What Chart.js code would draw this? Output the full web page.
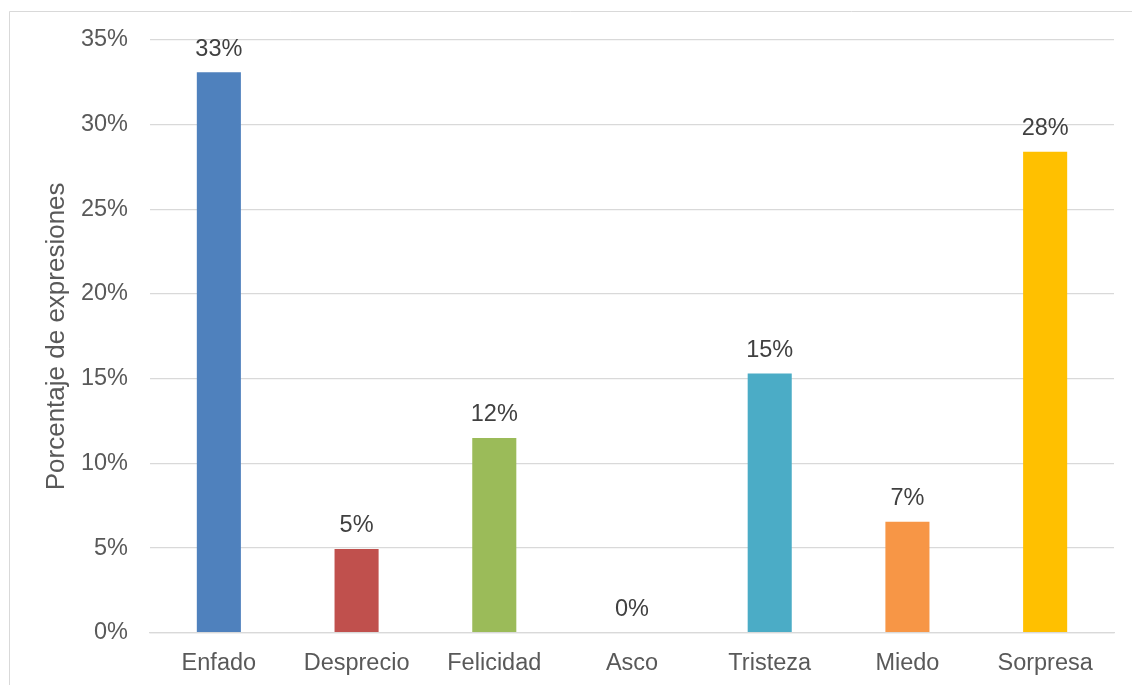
<!DOCTYPE html>
<html>
<head>
<meta charset="utf-8">
<script src="https://cdn.jsdelivr.net/npm/chart.js@4.4.1/dist/chart.umd.min.js"></script>
<style>
  html, body { margin: 0; padding: 0; background: #ffffff; }
  #wrap { position: relative; width: 1132px; height: 685px; }
</style>
</head>
<body>
<div id="wrap"><canvas id="c" width="1132" height="685"></canvas></div>
<script>
const categories = ["Enfado", "Desprecio", "Felicidad", "Asco", "Tristeza", "Miedo", "Sorpresa"];
const values = [33.1, 4.95, 11.5, 0, 15.3, 6.55, 28.4];
const barColors = ["#4F81BD", "#C0504D", "#9BBB59", "#8064A2", "#4BACC6", "#F79646", "#FFC000"];
const yTicks = [0, 5, 10, 15, 20, 25, 30, 35];
const yTitle = "Porcentaje de expresiones";

const FONT = "'Liberation Sans', Arial, sans-serif";

const frame = {
  id: 'frame',
  beforeDraw(chart) {
    const ctx = chart.ctx;
    ctx.save();
    ctx.fillStyle = '#ffffff';
    ctx.fillRect(0, 0, chart.width, chart.height);
    ctx.strokeStyle = '#d9d9d9';
    ctx.lineWidth = 1;
    ctx.beginPath();
    ctx.moveTo(9.5, chart.height);
    ctx.lineTo(9.5, 11.5);
    ctx.lineTo(chart.width, 11.5);
    ctx.stroke();
    ctx.restore();
  }
};

const dataLabels = {
  id: 'dataLabels',
  afterDatasetsDraw(chart) {
    const ctx = chart.ctx;
    const meta = chart.getDatasetMeta(0);
    ctx.save();
    ctx.font = "23.5px " + FONT;
    ctx.fillStyle = '#404040';
    ctx.textAlign = 'center';
    ctx.textBaseline = 'alphabetic';
    meta.data.forEach((bar, i) => {
      const v = chart.data.datasets[0].data[i];
      ctx.fillText(Math.round(v) + '%', bar.x, bar.y - 16.5);
    });
    ctx.restore();
  }
};

new Chart(document.getElementById('c'), {
  type: 'bar',
  data: {
    labels: categories,
    datasets: [{
      data: values,
      backgroundColor: barColors,
      borderWidth: 0,
      categoryPercentage: 1,
      barPercentage: 0.32
    }]
  },
  options: {
    responsive: false,
    animation: false,
    devicePixelRatio: 1,
    layout: { padding: { left: 37, right: 18, top: 40, bottom: 0 } },
    plugins: {
      legend: { display: false },
      tooltip: { enabled: false },
      title: { display: false }
    },
    scales: {
      x: {
        grid: { display: false, drawTicks: false },
        border: { display: true, color: '#d9d9d9', width: 1.3 },
        ticks: {
          color: '#595959',
          font: { family: FONT, size: 23.5 },
          padding: 17,
          maxRotation: 0,
          autoSkip: false
        },
        afterFit(scale) { scale.height = 52.3; }
      },
      y: {
        min: 0,
        max: 35,
        afterBuildTicks(scale) { scale.ticks = yTicks.map(v => ({ value: v })); },
        grid: { color: '#d9d9d9', lineWidth: 1.3, drawTicks: false },
        border: { display: false },
        ticks: {
          color: '#595959',
          font: { family: FONT, size: 23.5 },
          padding: 22,
          callback: v => v + '%'
        },
        title: {
          display: true,
          text: yTitle,
          color: '#595959',
          font: { family: FONT, size: 26 },
          padding: { top: 4, bottom: 4 }
        },
        afterFit(scale) { scale.width = 113; }
      }
    }
  },
  plugins: [frame, dataLabels]
});
</script>
</body>
</html>
